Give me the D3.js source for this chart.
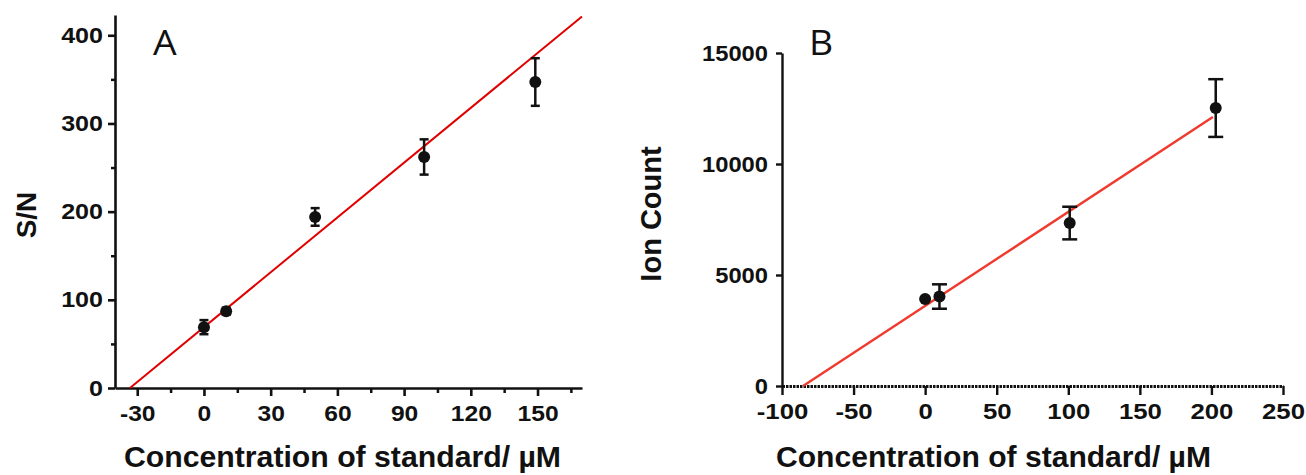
<!DOCTYPE html>
<html>
<head>
<meta charset="utf-8">
<script src="https://cdn.jsdelivr.net/npm/d3@7"></script>
<style>
  body { margin: 0; background: #fff; }
  svg { display: block; }
  .tick text { font-family: "Liberation Sans", Arial, sans-serif; font-weight: bold; fill: #111; }
  .ttl { font-family: "Liberation Sans", Arial, sans-serif; font-weight: bold; fill: #111; }
  .plabel { font-family: "Open Sans", "Noto Sans", sans-serif; fill: #111; }
</style>
</head>
<body>
<svg id="chart" width="1306" height="475"></svg>
<script>
// panel A : S/N vs concentration
const concA = [0, 10, 50, 99, 149];
const snA = [69, 87, 194, 262, 347];
const snErrA = [8, 4, 10, 20, 27];
const fitA = [69.0, 2.073];          // intercept, slope
const xTicksA = [-30, 0, 30, 60, 90, 120, 150];
const yTicksA = [0, 100, 200, 300, 400];

// panel B : ion count vs concentration
const concB = [0, 10, 101, 203];
const ionB = [3920, 4030, 7340, 12520];
const ionErrB = [0, 550, 735, 1300];
const fitB = [3609, 42.31];          // intercept, slope
const fitEndB = 201;
const xTicksB = [-100, -50, 0, 50, 100, 150, 200, 250];
const yTicksB = [0, 5000, 10000, 15000];

const xTitle = "Concentration of standard/ µM";

const svg = d3.select("#chart");

// figure is slightly stretched sideways, so stretch the tick text too
function styleTicks(g, size, sx, side) {
  g.selectAll(".tick text")
    .attr("font-size", size + "px")
    .attr("transform", `scale(${sx},1)`)
    .each(function() {
      const t = d3.select(this);
      if (side == "left") t.attr("x", +t.attr("x") / sx);
    });
}

function panel(o) {
  const x = d3.scaleLinear().domain(o.xDom).range(o.xRange);
  const y = d3.scaleLinear().domain(o.yDom).range(o.yRange);
  const g = svg.append("g");

  // minor ticks first
  if (o.xMinor) {
    g.append("g").attr("transform", `translate(0,${o.yRange[0]})`)
      .call(d3.axisBottom(x).tickValues(o.xMinor).tickSize(5).tickFormat("").tickSizeOuter(0))
      .call(a => a.select(".domain").remove())
      .selectAll("line").attr("stroke", "#111").attr("stroke-width", 2.5);
  }
  if (o.yMinor) {
    g.append("g").attr("transform", `translate(${o.xRange[0]},0)`)
      .call(d3.axisLeft(y).tickValues(o.yMinor).tickSize(4).tickFormat("").tickSizeOuter(0))
      .call(a => a.select(".domain").remove())
      .selectAll("line").attr("stroke", "#111").attr("stroke-width", 2.5);
  }

  const xa = g.append("g").attr("transform", `translate(0,${o.yRange[0]})`)
    .call(d3.axisBottom(x).tickValues(o.xTicks).tickFormat(d => String(d))
      .tickSize(o.tickX).tickPadding(o.padX).tickSizeOuter(0));
  xa.select(".domain").attr("stroke", "#111").attr("stroke-width", o.axisW);
  if (o.dotted) xa.select(".domain").attr("stroke-dasharray", "2.5,1").attr("stroke-width", 3);
  xa.selectAll(".tick line").attr("stroke", "#111").attr("stroke-width", o.axisW);
  styleTicks(xa, o.fsX, o.sxX, "bottom");

  const ya = g.append("g").attr("transform", `translate(${o.xRange[0]},0)`)
    .call(d3.axisLeft(y).tickValues(o.yTicks).tickFormat(d => String(d))
      .tickSize(o.tickY).tickPadding(o.padY).tickSizeOuter(0));
  ya.select(".domain").attr("stroke", "#111").attr("stroke-width", o.axisW);
  ya.selectAll(".tick line").attr("stroke", "#111").attr("stroke-width", o.axisW);
  styleTicks(ya, o.fsY, o.sxY, "left");

  // fit line
  const x0 = -o.fit[0] / o.fit[1];
  g.append("line")
    .attr("x1", x(x0)).attr("y1", y(0))
    .attr("x2", x(o.fitEnd)).attr("y2", y(o.fit[0] + o.fit[1] * o.fitEnd))
    .attr("stroke", o.lineColor).attr("stroke-width", o.lineW);

  // error bars + points
  const pts = o.xs.map((v, i) => ({ c: v, v: o.ys[i], e: o.errs[i] }));
  const eb = g.append("g").selectAll("g").data(pts.filter(d => d.e > 0)).join("g");
  eb.append("line")
    .attr("x1", d => x(d.c)).attr("x2", d => x(d.c))
    .attr("y1", d => y(d.v - d.e)).attr("y2", d => y(d.v + d.e))
    .attr("stroke", "#111").attr("stroke-width", 2.5);
  [1, -1].forEach(s => {
    eb.append("line")
      .attr("x1", d => x(d.c) - o.cap).attr("x2", d => x(d.c) + o.cap)
      .attr("y1", d => y(d.v + s * d.e)).attr("y2", d => y(d.v + s * d.e))
      .attr("stroke", "#111").attr("stroke-width", 2.5);
  });
  g.append("g").selectAll("circle").data(pts).join("circle")
    .attr("cx", d => x(d.c)).attr("cy", d => y(d.v))
    .attr("r", o.r).attr("fill", "#111");

  // titles
  g.append("text").attr("class", "ttl")
    .attr("x", o.xTitlePos[0]).attr("y", o.xTitlePos[1])
    .attr("font-size", "29px")
    .attr("textLength", o.xTitleLen).attr("lengthAdjust", "spacingAndGlyphs")
    .text(xTitle);
  g.append("text").attr("class", "ttl")
    .attr("transform", `translate(${o.yTitlePos[0]},${o.yTitlePos[1]}) rotate(-90)`)
    .attr("text-anchor", "middle")
    .attr("font-size", o.yTitleFs + "px")
    .text(o.yTitle);
  g.append("text").attr("class", "plabel")
    .attr("transform", `translate(${o.pl[0]},${o.pl[1]}) scale(1.1,1)`)
    .attr("font-size", "34px")
    .text(o.plText);
}

panel({
  xDom: [-40, 170], xRange: [115, 582],
  yDom: [0, 423], yRange: [388, 15],
  xTicks: xTicksA, yTicks: yTicksA,
  xMinor: d3.range(-15, 170, 30), yMinor: d3.range(50, 423, 100),
  tickX: 8, tickY: 7, padX: 9, padY: 5, axisW: 2.6,
  fsX: 22, sxX: 1.12, fsY: 22, sxY: 1.14,
  fit: fitA, fitEnd: 170, lineColor: "#e00000", lineW: 2,
  xs: concA, ys: snA, errs: snErrA, cap: 4.5, r: 6,
  xTitlePos: [124, 467], xTitleLen: 437,
  yTitle: "S/N", yTitleFs: 28, yTitlePos: [36, 215],
  pl: [153, 55], plText: "A"
});

panel({
  xDom: [-100, 250], xRange: [782, 1283],
  yDom: [0, 15000], yRange: [386, 53],
  xTicks: xTicksB, yTicks: yTicksB,
  tickX: 9, tickY: 6, padX: 8, padY: 8, axisW: 2.4, dotted: true,
  fsX: 23, sxX: 1.12, fsY: 22, sxY: 1.08,
  fit: fitB, fitEnd: fitEndB, lineColor: "#f03a2e", lineW: 2.4,
  xs: concB, ys: ionB, errs: ionErrB, cap: 7.5, r: 6,
  xTitlePos: [776, 467], xTitleLen: 435,
  yTitle: "Ion Count", yTitleFs: 29, yTitlePos: [661, 214],
  pl: [809, 55], plText: "B"
});
</script>
</body>
</html>
